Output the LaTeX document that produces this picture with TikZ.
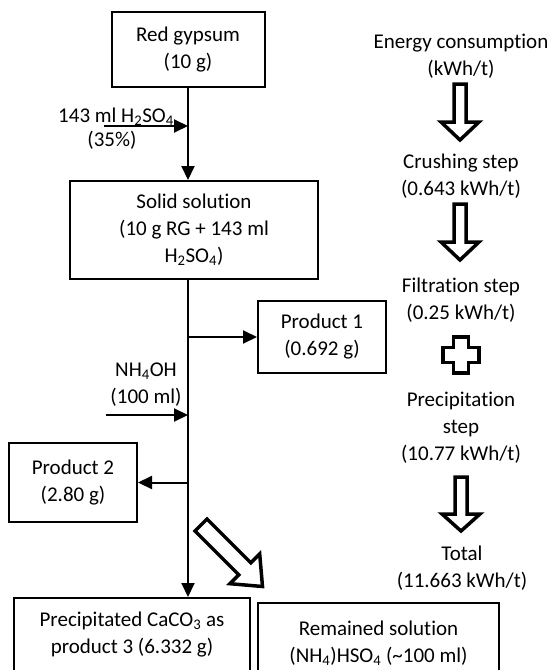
\documentclass[tikz,border=0pt]{standalone}
\usepackage{fontspec}
\setmainfont[Ligatures={NoCommon}]{Carlito}
\usetikzlibrary{arrows.meta}
\begin{document}
\begin{tikzpicture}[x=1pt,y=-1pt,
  every node/.style={font=\fontsize{21}{27}\selectfont, align=center, inner sep=0pt},
  box/.style={draw, line width=2pt},
  flow/.style={line width=2pt, -{Triangle[length=14pt,width=13pt]}},
  hollow/.style={line width=3.5pt, line join=miter, fill=white}]
\useasboundingbox (0,0) rectangle (550,670);
\clip (0,0) rectangle (550,670);
% boxes
\node[box, minimum width=153pt, minimum height=75pt] (rg) at (188,49.5) {Red gypsum\\(10 g)};
\node[box, minimum width=248pt, minimum height=98pt] (ss) at (194,230) {Solid solution\\(10 g RG + 143 ml\\H\textsubscript{2}SO\textsubscript{4})};
\node[box, minimum width=128pt, minimum height=72pt] (p1) at (322,337) {Product 1\\(0.692 g)};
\node[box, minimum width=128pt, minimum height=79pt] (p2) at (73,482.5) {Product 2\\(2.80 g)};
\node[box, minimum width=236pt, minimum height=73pt] (pc) at (132,634.5) {Precipitated CaCO\textsubscript{3} as\\product 3 (6.332 g)};
\node[box, minimum width=241pt, minimum height=80pt] (rs) at (378.5,643) {Remained solution\\(NH\textsubscript{4})HSO\textsubscript{4} (\textasciitilde100 ml)};
% inputs
\node (h2) at (116,117) {143 ml H\textsubscript{2}SO\textsubscript{4}};
\node (pct) at (112,140) {(35\%)};
\node (nh) at (146,384.5) {NH\textsubscript{4}OH\\(100 ml)};
\coordinate (h2s) at (104,126);
\coordinate (nhs) at (106,415);
% connectors
\draw[flow] (rg.south) -- (rg.south |- ss.north);
\draw[flow] (h2s) -- (rg.south |- h2s);
\draw[flow] (ss.south -| rg.south) -- (pc.north -| rg.south);
\draw[flow] (rg.south |- p1.west) -- (p1.west);
\draw[flow] (nhs) -- (rg.south |- nhs);
\draw[flow] (rg.south |- p2.east) -- (p2.east);
% diagonal hollow arrow
\draw[hollow] (207,519) -- (250.85,562.83) -- (259.69,553.99) -- (262.5,586.5) -- (229.99,583.69) -- (238.83,574.85) -- (195,531) -- cycle;
% energy column
\node (ec) at (461,56.5) {Energy consumption\\(kWh/t)};
\node (cr) at (461,176.5) {Crushing step\\(0.643 kWh/t)};
\node (fi) at (461,300.5) {Filtration step\\(0.25 kWh/t)};
\node (pr) at (461,428) {Precipitation\\step\\(10.77 kWh/t)};
\node (to) at (462,568.5) {Total\\(11.663 kWh/t)};
\draw[hollow] (454,84) -- (466,84) -- (466,122) -- (479,122) -- (460,140) -- (441,122) -- (454,122) -- cycle;
\draw[hollow] (454,204) -- (466,204) -- (466,242) -- (479,242) -- (460,260) -- (441,242) -- (454,242) -- cycle;
\draw[hollow] (455,477) -- (467,477) -- (467,514) -- (480,514) -- (461,531) -- (442,514) -- (455,514) -- cycle;
\draw[hollow] (453.5,337) -- (468.5,337) -- (468.5,347.5) -- (479,347.5) -- (479,362.5) -- (468.5,362.5) -- (468.5,373) -- (453.5,373) -- (453.5,362.5) -- (443,362.5) -- (443,347.5) -- (453.5,347.5) -- cycle;
\end{tikzpicture}
\end{document}
